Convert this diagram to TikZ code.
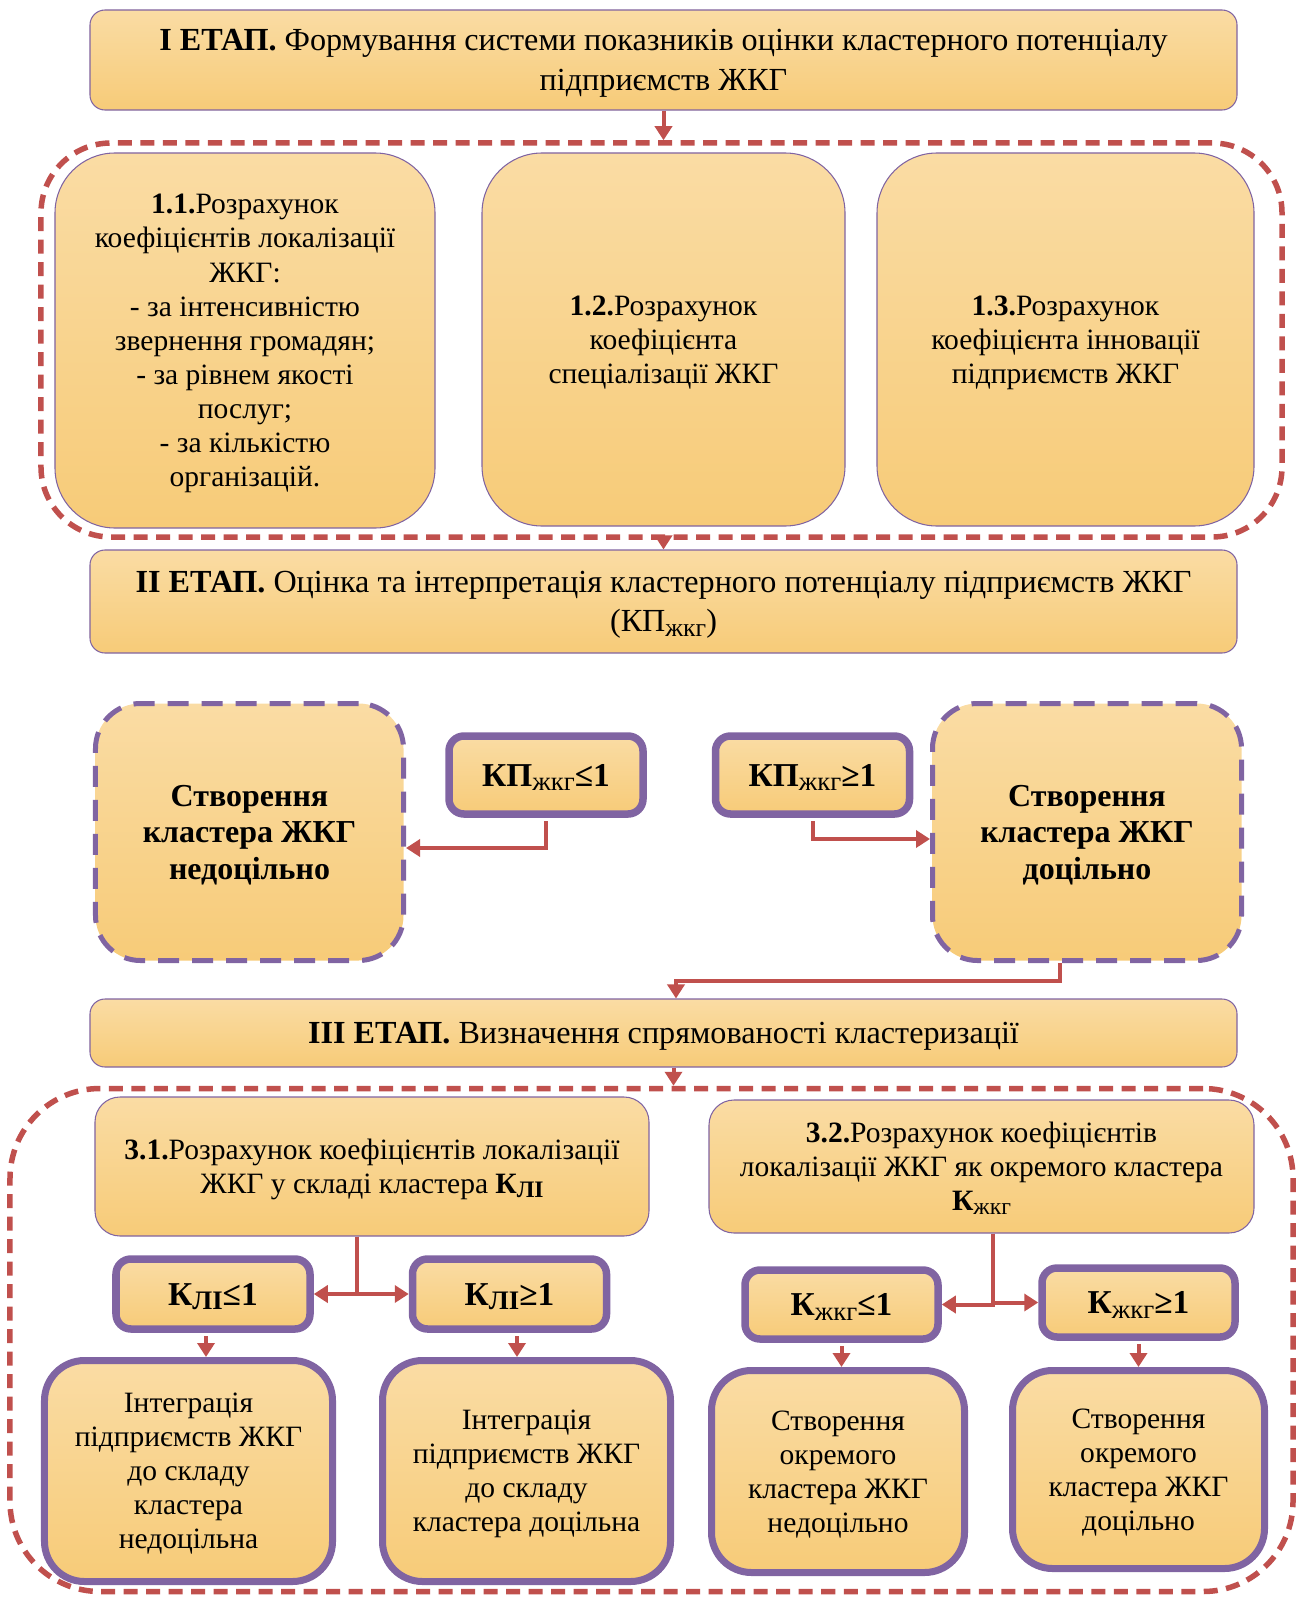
\documentclass[tikz,border=0pt]{standalone}
\usepackage{fontspec}
\usepackage{graphicx}
\setmainfont{Liberation Serif}
\usetikzlibrary{arrows.meta}
\definecolor{boxtop}{HTML}{FADCA4}
\definecolor{boxbot}{HTML}{F7CB78}
\definecolor{lilac}{HTML}{8064A2}
\definecolor{brick}{HTML}{C0504D}
\newcommand{\sbs}[1]{\raisebox{-0.3ex}{\scalebox{0.8}{\mdseries #1}}}

\begin{document}
\begin{tikzpicture}[x=0.2mm, y=-0.2mm]
\tikzstyle{stage}=[rectangle, rounded corners=3mm, draw=lilac, line width=0.6pt, top color=boxtop, bottom color=boxbot, align=center, inner sep=0pt, font=\fontsize{18.3}{22.5}\selectfont, text depth=-0.9mm]
\tikzstyle{calcbox}=[rectangle, rounded corners=12mm, draw=lilac, line width=0.6pt, top color=boxtop, bottom color=boxbot, align=center, inner sep=0pt, font=\fontsize{16.8}{19.4}\selectfont, text depth=-0.4mm]
\tikzstyle{decbox}=[rectangle, rounded corners=9mm, draw=lilac, line width=1mm, dash pattern=on 4.2mm off 2.6mm, top color=boxtop, bottom color=boxbot, align=center, inner sep=0pt, font=\bfseries\fontsize{18.2}{20.8}\selectfont, text depth=-0.3mm]
\tikzstyle{condbox}=[rectangle, rounded corners=3mm, draw=lilac, line width=1.5mm, top color=boxtop, bottom color=boxbot, align=center, inner sep=0pt, font=\bfseries\fontsize{19}{20}\selectfont, text depth=-0.8mm]
\tikzstyle{resbox}=[rectangle, rounded corners=8mm, draw=lilac, line width=1.4mm, top color=boxtop, bottom color=boxbot, align=center, inner sep=0pt, font=\fontsize{16.8}{19.4}\selectfont, text depth=-0.6mm]
\tikzstyle{region}=[rectangle, draw=brick, line width=1.1mm, dash pattern=on 2.8mm off 1.7mm]
\tikzstyle{drawstyle}=[draw=brick, line width=0.8mm, -{Triangle[length=2.8mm, width=3.4mm]}]

\useasboundingbox (0,0) rectangle (1296,1597);

\node[region, rounded corners=14mm, minimum width=248.2mm, minimum height=78.8mm] (R1) at (661.5,340) {};
\node[stage, text depth=-1.7mm, minimum width=229.4mm, minimum height=20mm] (E1) at (663.5,60) {\textbf{І ЕТАП.} Формування системи показників оцінки кластерного потенціалу\\ підприємств ЖКГ};
\node[calcbox, minimum width=76mm, minimum height=75mm] (S11) at (245,340.5) {\textbf{1.1.}Розрахунок\\ коефіцієнтів локалізації\\ ЖКГ:\\ - за інтенсивністю\\ звернення громадян;\\ - за рівнем якості\\ послуг;\\ - за кількістю\\ організацій.};
\node[calcbox, minimum width=72.6mm, minimum height=74.6mm] (S12) at (663.5,339.5) {\textbf{1.2.}Розрахунок\\ коефіцієнта\\ спеціалізації ЖКГ};
\node[calcbox, minimum width=75.4mm, minimum height=74.6mm] (S13) at (1065.5,339.5) {\textbf{1.3.}Розрахунок\\ коефіцієнта інновації\\ підприємств ЖКГ};
\node[stage, text depth=-1.4mm, minimum width=229.4mm, minimum height=20.6mm] (E2) at (663.5,601.5) {\textbf{ІІ ЕТАП.} Оцінка та інтерпретація кластерного потенціалу підприємств ЖКГ\\ (КП\sbs{жкг})};
\node[decbox, minimum width=61.6mm, minimum height=51.4mm] (N1) at (249.5,832) {Створення\\ кластера ЖКГ\\ недоцільно};
\node[condbox, minimum width=38.8mm, minimum height=15.6mm] (K1) at (546,775) {КП\sbs{жкг}≤1};
\node[condbox, minimum width=38.8mm, minimum height=15.6mm] (K2) at (812.5,775) {КП\sbs{жкг}≥1};
\node[decbox, minimum width=61.8mm, minimum height=51.4mm] (N2) at (1087,832) {Створення\\ кластера ЖКГ\\ доцільно};
\node[stage, minimum width=229.4mm, minimum height=13.6mm] (E3) at (663.5,1033) {\textbf{ІІІ ЕТАП.} Визначення спрямованості кластеризації};
\node[region, rounded corners=18mm, minimum width=256.6mm, minimum height=100.6mm] (R2) at (651.5,1340) {};
\node[calcbox, rounded corners=5mm, minimum width=110.8mm, minimum height=27.8mm] (S31) at (372,1166.5) {\textbf{3.1.}Розрахунок коефіцієнтів локалізації\\ ЖКГ у складі кластера \textbf{К\sbs{\bfseries ЛІ}}};
\node[calcbox, rounded corners=5mm, minimum width=109mm, minimum height=26.6mm] (S32) at (981.5,1166.5) {\textbf{3.2.}Розрахунок коефіцієнтів\\ локалізації ЖКГ як окремого кластера\\ \textbf{К\sbs{жкг}}};
\node[condbox, minimum width=38.8mm, minimum height=14mm] (L1) at (213,1294) {К\sbs{\bfseries ЛІ}≤1};
\node[condbox, minimum width=38.8mm, minimum height=14mm] (L2) at (509.5,1294) {К\sbs{\bfseries ЛІ}≥1};
\node[condbox, minimum width=38.6mm, minimum height=13.8mm] (J1) at (841.5,1304.5) {К\sbs{жкг}≤1};
\node[condbox, minimum width=38.6mm, minimum height=13.8mm] (J2) at (1138.5,1302.5) {К\sbs{жкг}≥1};
\node[resbox, minimum width=57.6mm, minimum height=44.2mm] (F1) at (188.5,1471) {Інтеграція\\ підприємств ЖКГ\\ до складу\\ кластера\\ недоцільна};
\node[resbox, minimum width=57.6mm, minimum height=44.2mm] (F2) at (526.5,1471) {Інтеграція\\ підприємств ЖКГ\\ до складу\\ кластера доцільна};
\node[resbox, minimum width=50.6mm, minimum height=40.4mm] (F3) at (838,1471.5) {Створення\\ окремого\\ кластера ЖКГ\\ недоцільно};
\node[resbox, minimum width=50.4mm, minimum height=39.6mm] (F4) at (1138.5,1469.5) {Створення\\ окремого\\ кластера ЖКГ\\ доцільно};

\draw[drawstyle] (E1.south) -- (E1.south |- R1.north);
\draw[drawstyle] (E2.north |- R1.south) -- (E2.north);
\draw[drawstyle, shorten <=0.7mm] (K1.south) |- ([yshift=-3.2mm]N1.east);
\draw[drawstyle, shorten <=0.7mm] (K2.south) |- ([yshift=-1.4mm]N2.west);
\draw[drawstyle] ([xshift=-5.4mm]N2.south) -- ++(0,18) -| ([xshift=2.5mm]E3.north);
\draw[drawstyle] ([xshift=2mm]E3.south) -- ([xshift=2mm]E3.south |- R2.north);
\coordinate (C31) at ([xshift=-3mm]S31.south);
\draw[drawstyle] (C31) |- (L1.east);
\draw[drawstyle] (C31) |- (L2.west);
\coordinate (C32) at ([xshift=2.3mm]S32.south);
\draw[drawstyle] (C32) |- (J1.east);
\draw[drawstyle] (C32) |- (J2.west);
\draw[drawstyle, shorten <=0.7mm] ([xshift=-1.4mm]L1.south) -- ([xshift=-1.4mm]L1.south |- F1.north);
\draw[drawstyle, shorten <=0.7mm] ([xshift=1.5mm]L2.south) -- ([xshift=1.5mm]L2.south |- F2.north);
\draw[drawstyle, shorten <=0.7mm] (J1.south) -- (J1.south |- F3.north);
\draw[drawstyle, shorten <=0.7mm] (J2.south) -- (J2.south |- F4.north);
\end{tikzpicture}
\end{document}
